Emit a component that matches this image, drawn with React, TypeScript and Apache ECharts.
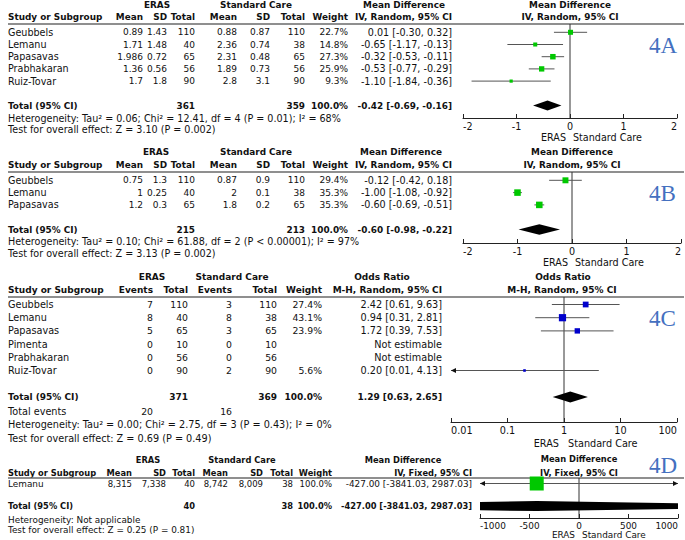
import React, { useEffect, useRef } from "react";
import * as echarts from "echarts";

// ---------------- 4A : mean difference, random ----------------
const aStudies = ["Geubbels", "Lemanu", "Papasavas", "Prabhakaran", "Ruiz-Tovar"];
const aErasMean = ["0.89", "1.71", "1.986", "1.36", "1.7"];
const aErasSD = ["1.43", "1.48", "0.72", "0.56", "1.8"];
const aErasN = [110, 40, 65, 56, 90];
const aCareMean = ["0.88", "2.36", "2.31", "1.89", "2.8"];
const aCareSD = ["0.87", "0.74", "0.48", "0.73", "3.1"];
const aCareN = [110, 38, 65, 56, 90];
const aWeight = [22.7, 14.8, 27.3, 25.9, 9.3];
const aEst = [0.01, -0.65, -0.32, -0.53, -1.1];
const aLow = [-0.3, -1.17, -0.53, -0.77, -1.84];
const aHigh = [0.32, -0.13, -0.11, -0.29, -0.36];
const aPooled = [-0.42, -0.69, -0.16];
const aTotals = [361, 359];
const aHetero = "Heterogeneity: Tau² = 0.06; Chi² = 12.41, df = 4 (P = 0.01); I² = 68%";
const aTest = "Test for overall effect: Z = 3.10 (P = 0.002)";
const aAxis = [-2, 2, 1];

// ---------------- 4B ----------------
const bStudies = ["Geubbels", "Lemanu", "Papasavas"];
const bErasMean = ["0.75", "1", "1.2"];
const bErasSD = ["1.3", "0.25", "0.3"];
const bErasN = [110, 40, 65];
const bCareMean = ["0.87", "2", "1.8"];
const bCareSD = ["0.9", "0.1", "0.2"];
const bCareN = [110, 38, 65];
const bWeight = [29.4, 35.3, 35.3];
const bEst = [-0.12, -1.0, -0.6];
const bLow = [-0.42, -1.08, -0.69];
const bHigh = [0.18, -0.92, -0.51];
const bPooled = [-0.6, -0.98, -0.22];
const bTotals = [215, 213];
const bHetero = "Heterogeneity: Tau² = 0.10; Chi² = 61.88, df = 2 (P < 0.00001); I² = 97%";
const bTest = "Test for overall effect: Z = 3.13 (P = 0.002)";
const bAxis = [-2, 2, 1];

// ---------------- 4C : odds ratio ----------------
const cStudies = ["Geubbels", "Lemanu", "Papasavas", "Pimenta", "Prabhakaran", "Ruiz-Tovar"];
const cErasEvents = [7, 8, 5, 0, 0, 0];
const cErasN = [110, 40, 65, 10, 56, 90];
const cCareEvents = [3, 8, 3, 0, 0, 2];
const cCareN = [110, 38, 65, 10, 56, 90];
const cWeight = [27.4, 43.1, 23.9, null, null, 5.6];
const cEst = [2.42, 0.94, 1.72, null, null, 0.2];
const cLow = [0.61, 0.31, 0.39, null, null, 0.01];
const cHigh = [9.63, 2.81, 7.53, null, null, 4.13];
const cPooled = [1.29, 0.63, 2.65];
const cTotals = [371, 369];
const cEvents = [20, 16];
const cHetero = "Heterogeneity: Tau² = 0.00; Chi² = 2.75, df = 3 (P = 0.43); I² = 0%";
const cTest = "Test for overall effect: Z = 0.69 (P = 0.49)";
const cAxis = [0.01, 100];

// ---------------- 4D ----------------
const dStudies = ["Lemanu"];
const dErasMean = ["8,315"];
const dErasSD = ["7,338"];
const dErasN = [40];
const dCareMean = ["8,742"];
const dCareSD = ["8,009"];
const dCareN = [38];
const dWeight = [100];
const dEst = [-427];
const dLow = [-3841.03];
const dHigh = [2987.03];
const dPooled = [-427, -3841.03, 2987.03];
const dTotals = [40, 38];
const dHetero = "Heterogeneity: Not applicable";
const dTest = "Test for overall effect: Z = 0.25 (P = 0.81)";
const dAxis = [-1000, 1000, 500];

// ---------------- helpers ----------------
const FAM = '"DejaVu Sans", sans-serif';
const reg = (s: number) => `${s}px ${FAM}`;
const bold = (s: number) => `bold ${s}px ${FAM}`;
const TXT = "#111";

function txt(text: string, x: number, y: number, font: string, align = "left", fill = TXT) {
  return { type: "text", x, y, silent: true, style: { text, font, fill, align, verticalAlign: "middle" } };
}
function hline(y: number) {
  return { type: "line", silent: true, shape: { x1: 8, y1: y, x2: 684, y2: y }, style: { stroke: "#6a6a6a", lineWidth: 1.5 } };
}
const f2 = (v: number) => v.toFixed(2);
const ci = (e: number, l: number, h: number) => `${f2(e)} [${f2(l)}, ${f2(h)}]`;

function studyItem(color: string, k: number) {
  return (params: any, api: any) => {
    const cs = params.coordSys;
    const row = api.value(3);
    const pe = api.coord([api.value(0), row]);
    const xe = pe[0];
    const y = pe[1];
    let xl = api.coord([api.value(1), row])[0];
    let xh = api.coord([api.value(2), row])[0];
    const left = cs.x;
    const right = cs.x + cs.width;
    const arrowL = xl <= left + 0.5;
    const arrowR = xh >= right - 0.5;
    xl = Math.max(xl, left);
    xh = Math.min(xh, right);
    const s = k * Math.sqrt(api.value(4));
    const ch: any[] = [
      { type: "line", shape: { x1: xl, y1: y, x2: xh, y2: y }, style: { stroke: "#555", lineWidth: 1 } },
    ];
    if (arrowL) ch.push({ type: "polygon", shape: { points: [[xl, y], [xl + 5, y - 2.5], [xl + 5, y + 2.5]] }, style: { fill: "#111" } });
    if (arrowR) ch.push({ type: "polygon", shape: { points: [[xh, y], [xh - 5, y - 2.5], [xh - 5, y + 2.5]] }, style: { fill: "#111" } });
    ch.push({ type: "rect", shape: { x: xe - s / 2, y: y - s / 2, width: s, height: s }, style: { fill: color } });
    return { type: "group", children: ch };
  };
}

function diamondItem(h: number) {
  return (params: any, api: any) => {
    const cs = params.coordSys;
    const left = cs.x;
    const right = cs.x + cs.width;
    const row = api.value(3);
    const pe = api.coord([api.value(0), row]);
    const xe = pe[0];
    const y = pe[1];
    const xl = api.coord([api.value(1), row])[0];
    const xh = api.coord([api.value(2), row])[0];
    const pts: number[][] = [];
    if (xl < left) {
      const r = h * (1 - (xe - left) / (xe - xl));
      pts.push([left, y + r], [left, y - r]);
    } else pts.push([xl, y]);
    pts.push([xe, y - h]);
    if (xh > right) {
      const r = h * (1 - (right - xe) / (xh - xe));
      pts.push([right, y - r], [right, y + r]);
    } else pts.push([xh, y]);
    pts.push([xe, y + h]);
    return { type: "polygon", shape: { points: pts }, style: { fill: "#000" } };
  };
}

interface Geo {
  line: number; row0: number; step: number; axisY: number; xL: number; xR: number; fs: number; fn: number;
}

function panelParts(gi: number, g: Geo, xAxisCfg: any, ref: number, studyData: number[][], pooled: number[], pooledRow: number, color: string, k: number, dh: number) {
  const yMin = (g.line - g.row0) / g.step;
  const yMax = (g.axisY - g.row0) / g.step;
  const grid = { left: g.xL, top: g.line, width: g.xR - g.xL, height: g.axisY - g.line, outerBoundsMode: "none", containLabel: false };
  const xAxis = {
    gridIndex: gi,
    position: "bottom",
    splitLine: { show: false },
    axisLine: { show: true, onZero: false, lineStyle: { color: "#222", width: 1 } },
    axisTick: { show: true, inside: true, length: 4, lineStyle: { color: "#222" } },
    ...xAxisCfg,
    axisLabel: {
      fontFamily: FAM, fontSize: g.fs, color: TXT, margin: 3, showMinLabel: true, showMaxLabel: true,
      alignMinLabel: "left", alignMaxLabel: "right", hideOverlap: false,
      formatter: (v: number) => String(Number(Number(v).toPrecision(4))),
    },
  };
  const yAxis = { gridIndex: gi, type: "value", min: yMin, max: yMax, inverse: true, show: false };
  const series = [
    {
      type: "line", xAxisIndex: gi, yAxisIndex: gi, silent: true, symbol: "none", z: 1,
      data: [[ref, yMin], [ref, yMax]], lineStyle: { color: "#333", width: 1 },
    },
    {
      type: "custom", xAxisIndex: gi, yAxisIndex: gi, silent: true, z: 3,
      encode: { x: 0, y: 3 }, renderItem: studyItem(color, k), data: studyData,
    },
    {
      type: "custom", xAxisIndex: gi, yAxisIndex: gi, silent: true, z: 3,
      encode: { x: 0, y: 3 }, renderItem: diamondItem(dh),
      data: [[pooled[0], pooled[1], pooled[2], pooledRow]],
    },
  ];
  return { grid, xAxis, yAxis, series };
}

function studyRows(est: (number | null)[], lo: (number | null)[], hi: (number | null)[], w: (number | null)[]) {
  const out: number[][] = [];
  est.forEach((e, i) => {
    if (e !== null && lo[i] !== null && hi[i] !== null && w[i] !== null) out.push([e, lo[i] as number, hi[i] as number, i, w[i] as number]);
  });
  return out;
}

function mdTable(
  g: Geo, hdr1: number, hdr2: number, fb: number, cols: number[], centers: number[], plotC: number, ciLabel: string,
  studies: string[], em: string[], es: string[], en: number[], cm: string[], csd: string[], cn: number[],
  w: number[], est: number[], lo: number[], hi: number[], pooled: number[], totals: number[], totalIdx: number,
  het: string, test: string, hetY: number, testY: number, eraY: number, x0: number, plotHdr1?: number,
) {
  const fs = g.fs;
  const el: any[] = [];
  el.push(txt("ERAS", centers[0], hdr1, bold(fb), "center"));
  el.push(txt("Standard Care", centers[1], hdr1, bold(fb), "center"));
  el.push(txt("Mean Difference", centers[2], hdr1, bold(fb), "center"));
  el.push(txt("Mean Difference", plotC, plotHdr1 ?? hdr1, bold(fb), "center"));
  el.push(txt("Study or Subgroup", 8, hdr2, bold(fb)));
  const heads = ["Mean", "SD", "Total", "Mean", "SD", "Total", "Weight", ciLabel];
  heads.forEach((h, i) => el.push(txt(h, cols[i], hdr2, bold(fb), "right")));
  el.push(txt(ciLabel, plotC, hdr2, bold(fb), "center"));
  el.push(hline(g.line));
  studies.forEach((s, i) => {
    const y = g.row0 + g.step * i;
    const vals = [em[i], es[i], String(en[i]), cm[i], csd[i], String(cn[i]), `${w[i].toFixed(1)}%`];
    el.push(txt(s, 8, y, reg(fs)));
    vals.forEach((v, j) => el.push(txt(v, cols[j], y, reg(g.fn), "right")));
    el.push(txt(ci(est[i], lo[i], hi[i]), cols[7], y, reg(fs), "right"));
  });
  const ty = g.row0 + g.step * totalIdx;
  el.push(txt("Total (95% CI)", 8, ty, bold(fb)));
  el.push(txt(String(totals[0]), cols[2], ty, bold(fb), "right"));
  el.push(txt(String(totals[1]), cols[5], ty, bold(fb), "right"));
  el.push(txt("100.0%", cols[6], ty, bold(fb), "right"));
  el.push(txt(ci(pooled[0], pooled[1], pooled[2]), cols[7], ty, bold(fb), "right"));
  el.push(txt(het, 8, hetY, reg(fs)));
  el.push(txt(test, 8, testY, reg(fs)));
  el.push(txt("ERAS", x0 - 4, eraY, reg(fs), "right"));
  el.push(txt("Standard Care", x0 + 3, eraY, reg(fs), "left"));
  return el;
}

function tag(t: string, x: number, y: number) {
  return { type: "text", x, y, silent: true, style: { text: t, font: '23px "Liberation Serif", serif', fill: "#4470c0", align: "left", verticalAlign: "middle" } };
}

const xPix = (v: number, min: number, max: number, xL: number, xR: number) => xL + ((v - min) / (max - min)) * (xR - xL);

export default function App() {
  const ref = useRef<HTMLDivElement>(null);
  useEffect(() => {
    if (!ref.current) return;
    const chart = echarts.init(ref.current, null, { renderer: "svg" });

    const gA: Geo = { line: 24, row0: 32.3, step: 12.2, axisY: 118, xL: 463, xR: 677, fs: 9.6, fn: 9.0 };
    const gB: Geo = { line: 172, row0: 180.3, step: 12.3, axisY: 243, xL: 463, xR: 681, fs: 9.6, fn: 9.0 };
    const gC: Geo = { line: 297, row0: 304.5, step: 13.2, axisY: 422, xL: 451, xR: 677, fs: 9.7, fn: 9.3 };
    const gD: Geo = { line: 478, row0: 483.5, step: 11.3, axisY: 518, xL: 480, xR: 678, fs: 8.9, fn: 8.5 };

    const mdCols = [143, 167, 195, 237, 270, 305, 348, 452];
    const dCols = [132, 166, 195, 228, 263, 293, 332, 472];

    const pA = panelParts(0, gA, { type: "value", min: aAxis[0], max: aAxis[1], interval: aAxis[2] }, 0,
      studyRows(aEst, aLow, aHigh, aWeight), aPooled, 6, "#00c800", 1.05, 5);
    const pB = panelParts(1, gB, { type: "value", min: bAxis[0], max: bAxis[1], interval: bAxis[2] }, 0,
      studyRows(bEst, bLow, bHigh, bWeight), bPooled, 4, "#00c800", 1.1, 5.3);
    const pC = panelParts(2, gC, { type: "log", logBase: 10, min: cAxis[0], max: cAxis[1] }, 1,
      studyRows(cEst, cLow, cHigh, cWeight), cPooled, 7, "#0000cc", 1.1, 5.5);
    const pD = panelParts(3, gD, { type: "value", min: dAxis[0], max: dAxis[1], interval: dAxis[2] }, 0,
      studyRows(dEst, dLow, dHigh, dWeight), dPooled, 2, "#00c800", 1.4, 5);

    const x0A = xPix(0, aAxis[0], aAxis[1], gA.xL, gA.xR);
    const x0B = xPix(0, bAxis[0], bAxis[1], gB.xL, gB.xR);
    const x0C = gC.xL + ((Math.log10(1) - Math.log10(cAxis[0])) / (Math.log10(cAxis[1]) - Math.log10(cAxis[0]))) * (gC.xR - gC.xL);
    const x0D = xPix(0, dAxis[0], dAxis[1], gD.xL, gD.xR);

    const els: any[] = [];
    els.push(...mdTable(gA, 5, 17, 8.9, mdCols, [157, 256, 404], 570, "IV, Random, 95% CI",
      aStudies, aErasMean, aErasSD, aErasN, aCareMean, aCareSD, aCareN, aWeight, aEst, aLow, aHigh, aPooled, aTotals, 6,
      aHetero, aTest, 118, 129, 137, x0A));
    els.push(tag("4A", 649, 45));

    els.push(...mdTable(gB, 152, 165, 8.9, mdCols, [156, 256, 401], 572, "IV, Random, 95% CI",
      bStudies, bErasMean, bErasSD, bErasN, bCareMean, bCareSD, bCareN, bWeight, bEst, bLow, bHigh, bPooled, bTotals, 4,
      bHetero, bTest, 241, 253, 262, x0B));
    els.push(tag("4B", 649, 193));

    // 4C table (odds ratio)
    {
      const fs = gC.fs, fb = 9.0;
      const cols = [153, 188, 232, 277, 322, 442];
      els.push(txt("ERAS", 152, 277, bold(fb), "center"));
      els.push(txt("Standard Care", 232, 277, bold(fb), "center"));
      els.push(txt("Odds Ratio", 382, 277, bold(fb), "center"));
      els.push(txt("Odds Ratio", 563, 277, bold(fb), "center"));
      els.push(txt("Study or Subgroup", 8, 290, bold(fb)));
      ["Events", "Total", "Events", "Total", "Weight", "M-H, Random, 95% CI"].forEach((h, i) => els.push(txt(h, cols[i], 290, bold(fb), "right")));
      els.push(txt("M-H, Random, 95% CI", 562, 290, bold(fb), "center"));
      els.push(hline(gC.line));
      cStudies.forEach((s, i) => {
        const y = gC.row0 + gC.step * i;
        const w = cWeight[i];
        const e = cEst[i];
        const vals = [String(cErasEvents[i]), String(cErasN[i]), String(cCareEvents[i]), String(cCareN[i]),
          w === null ? "" : `${w.toFixed(1)}%`];
        els.push(txt(s, 8, y, reg(fs)));
        vals.forEach((v, j) => { if (v) els.push(txt(v, cols[j], y, reg(gC.fn), "right")); });
        els.push(txt(e === null ? "Not estimable" : ci(e, cLow[i] as number, cHigh[i] as number), cols[5], y, reg(fs), "right"));
      });
      const ty = gC.row0 + gC.step * 7;
      els.push(txt("Total (95% CI)", 8, ty, bold(fb)));
      els.push(txt(String(cTotals[0]), cols[1], ty, bold(fb), "right"));
      els.push(txt(String(cTotals[1]), cols[3], ty, bold(fb), "right"));
      els.push(txt("100.0%", cols[4], ty, bold(fb), "right"));
      els.push(txt(ci(cPooled[0], cPooled[1], cPooled[2]), cols[5], ty, bold(fb), "right"));
      els.push(txt("Total events", 8, 411, reg(fs)));
      els.push(txt(String(cEvents[0]), cols[0], 411, reg(gC.fn), "right"));
      els.push(txt(String(cEvents[1]), cols[2], 411, reg(gC.fn), "right"));
      els.push(txt(cHetero, 8, 424.5, reg(fs)));
      els.push(txt(cTest, 8, 438, reg(fs)));
      els.push(txt("ERAS", x0C - 5, 443, reg(fs), "right"));
      els.push(txt("Standard Care", x0C + 4, 443, reg(fs), "left"));
      els.push(tag("4C", 649, 318));
    }

    els.push(...mdTable(gD, 460, 472.5, 8.3, dCols, [148, 242, 403], 579, "IV, Fixed, 95% CI",
      dStudies, dErasMean, dErasSD, dErasN, dCareMean, dCareSD, dCareN, dWeight, dEst, dLow, dHigh, dPooled, dTotals, 2,
      dHetero, dTest, 519.5, 530, 535, x0D, 459));
    els.push(tag("4D", 649, 465));

    const parts = [pA, pB, pC, pD];
    const option: any = {
      animation: false,
      backgroundColor: "#ffffff",
      textStyle: { fontFamily: FAM },
      grid: parts.map((p) => p.grid),
      xAxis: parts.map((p) => p.xAxis),
      yAxis: parts.map((p) => p.yAxis),
      series: parts.flatMap((p) => p.series),
      graphic: { elements: els },
    };
    chart.setOption(option);
    return () => chart.dispose();
  }, []);

  return <div ref={ref} style={{ position: "fixed", left: 0, top: 0, width: 685, height: 540 }} />;
}
